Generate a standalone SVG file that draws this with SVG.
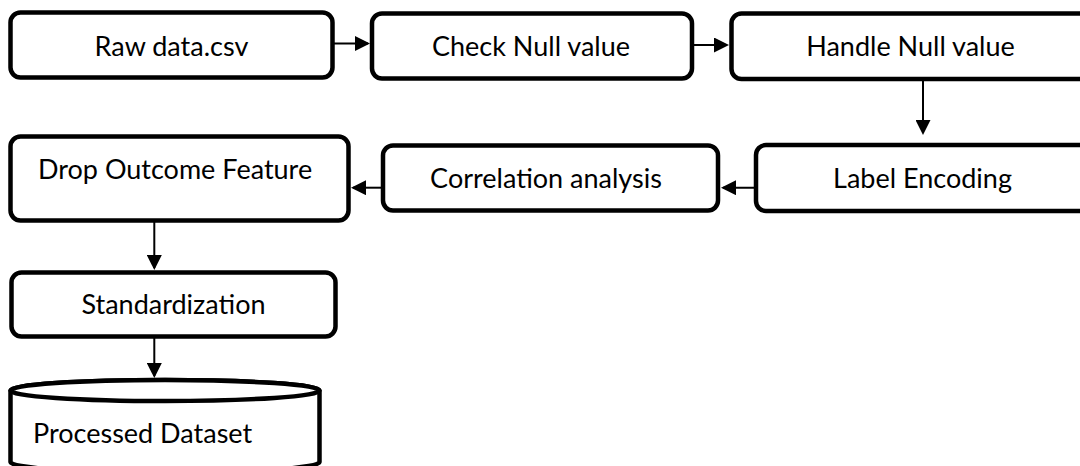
<svg xmlns="http://www.w3.org/2000/svg" width="1080" height="466" viewBox="0 0 1080 466">
<defs>
<style>
.box{fill:#fff;stroke:#000;stroke-width:4.5}
.lbl{font-family:Lato,"Liberation Sans",sans-serif;font-size:27px;fill:#000}
.c{text-anchor:middle}
.con{stroke:#000;stroke-width:2;fill:none}
</style>
<marker id="ah" markerUnits="userSpaceOnUse" markerWidth="15" markerHeight="15" refX="13" refY="7.5" orient="auto">
<path d="M0,0 L15,7.5 L0,15 Z" fill="#000"/>
</marker>
</defs>
<rect width="1080" height="466" fill="#fff"/>
<g id="connectors">
<line class="con" x1="332.5" y1="43.5" x2="368" y2="43.5" marker-end="url(#ah)"/>
<line class="con" x1="692" y1="45" x2="727" y2="45" marker-end="url(#ah)"/>
<line class="con" x1="923" y1="79" x2="923" y2="133" marker-end="url(#ah)"/>
<line class="con" x1="756" y1="187.7" x2="723" y2="187.7" marker-end="url(#ah)"/>
<line class="con" x1="383" y1="187.7" x2="353" y2="187.7" marker-end="url(#ah)"/>
<line class="con" x1="154.3" y1="220.5" x2="154.3" y2="268" marker-end="url(#ah)"/>
<line class="con" x1="154.3" y1="336.5" x2="154.3" y2="376" marker-end="url(#ah)"/>
</g>
<g id="n-raw">
<rect class="box" x="10.5" y="12.5" width="322" height="65" rx="10"/>
<text class="lbl c" x="171.5" y="56">Raw data.csv</text>
</g>
<g id="n-check">
<rect class="box" x="372" y="13.5" width="320" height="65" rx="10"/>
<text class="lbl c" x="531" y="56">Check Null value</text>
</g>
<g id="n-handle">
<rect class="box" x="731.5" y="13.5" width="360" height="65.5" rx="10"/>
<text class="lbl c" x="910.5" y="56">Handle Null value</text>
</g>
<g id="n-label">
<rect class="box" x="756" y="145" width="340" height="66" rx="10"/>
<text class="lbl c" x="922.5" y="188">Label Encoding</text>
</g>
<g id="n-corr">
<rect class="box" x="383" y="145.5" width="335" height="65" rx="10"/>
<text class="lbl c" x="546" y="188">Correlation analysis</text>
</g>
<g id="n-drop">
<rect class="box" x="10.5" y="136.5" width="338" height="84" rx="10"/>
<text class="lbl" x="38" y="179">Drop Outcome Feature</text>
</g>
<g id="n-std">
<rect class="box" x="11.5" y="272.5" width="324" height="64" rx="10"/>
<text class="lbl c" x="173.5" y="314">Standardization</text>
</g>
<g id="n-dataset">
<path class="box" d="M10.5,390.5 L10.5,462 A154.5,11 0 0 0 319.5,462 L319.5,390.5 A154.5,10.5 0 0 0 10.5,390.5 Z"/>
<ellipse class="box" cx="165" cy="390.5" rx="154.5" ry="10.5"/>
<text class="lbl" x="33" y="443">Processed Dataset</text>
</g>
</svg>
